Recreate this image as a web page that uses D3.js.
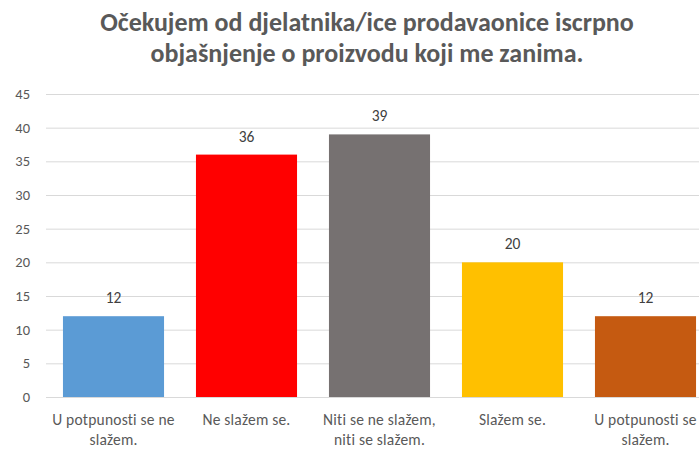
<!DOCTYPE html>
<html>
<head>
<meta charset="utf-8">
<script src="https://cdn.jsdelivr.net/npm/d3@7"></script>
<style>
  html, body { margin: 0; padding: 0; background: #fff; overflow: hidden; }
  svg { display: block; }
</style>
</head>
<body>
<svg id="chart" width="699" height="450"></svg>
<script>
// Survey answers and how many respondents picked each one
const categories = [
  "U potpunosti se ne slažem.",
  "Ne slažem se.",
  "Niti se ne slažem, niti se slažem.",
  "Slažem se.",
  "U potpunosti se slažem."
];
const counts = [12, 36, 39, 20, 12];
const barColors = ["#5B9BD5", "#FF0000", "#767171", "#FFC000", "#C55A11"];
const yTicks = [0, 5, 10, 15, 20, 25, 30, 35, 40, 45];
const titleLines = [
  "Očekujem od djelatnika/ice prodavaonice iscrpno",
  "objašnjenje o proizvodu koji me zanima."
];

const svg = d3.select("#chart");
const W = 699, H = 450;
const plot = { left: 47, right: 712, top: 94, bottom: 397 };
const font = "Calibri, Carlito, Lato, 'Open Sans', sans-serif";

const x = d3.scaleBand()
  .domain(categories)
  .range([plot.left, plot.right])
  .paddingInner(0.24)
  .paddingOuter(0.12);

const y = d3.scaleLinear()
  .domain([0, 45])
  .range([plot.bottom, plot.top]);

// Title
svg.append("g")
  .selectAll("text")
  .data(titleLines)
  .join("text")
  .attr("x", 367)
  .attr("y", (d, i) => 31 + i * 31)
  .attr("text-anchor", "middle")
  .style("font-family", font)
  .style("font-weight", "bold")
  .style("font-size", "26px")
  .style("fill", "#595959")
  .text(d => d);

// Horizontal gridlines
const yAxis = d3.axisLeft(y)
  .tickValues(yTicks)
  .tickSize(-(W - plot.left + 10))
  .tickPadding(16)
  .tickFormat(d3.format("d"));

const gy = svg.append("g")
  .attr("transform", `translate(${plot.left - 1},0)`)
  .call(yAxis);
gy.select(".domain").remove();
gy.selectAll(".tick line").attr("stroke", "#d9d9d9").attr("stroke-width", 1);
gy.selectAll(".tick text")
  .style("font-family", font)
  .style("font-size", "14.5px")
  .style("fill", "#595959");

// Bars
svg.append("g")
  .selectAll("rect")
  .data(counts)
  .join("rect")
  .attr("x", (d, i) => x(categories[i]))
  .attr("width", x.bandwidth())
  .attr("y", d => y(d))
  .attr("height", d => y(0) - y(d))
  .attr("fill", (d, i) => barColors[i]);

// Value labels
svg.append("g")
  .selectAll("text")
  .data(counts)
  .join("text")
  .attr("x", (d, i) => x(categories[i]) + x.bandwidth() / 2)
  .attr("y", d => y(d) - 13)
  .attr("text-anchor", "middle")
  .style("font-family", font)
  .style("font-size", "15.5px")
  .style("fill", "#404040")
  .text(d => d);

// Baseline
svg.append("line")
  .attr("x1", plot.left - 1).attr("x2", W)
  .attr("y1", y(0) + 0.5).attr("y2", y(0) + 0.5)
  .attr("stroke", "#d9d9d9");

// Category labels, wrapped to the band width
const gx = svg.append("g");
categories.forEach(cat => {
  const cx = x(cat) + x.bandwidth() / 2;
  const t = gx.append("text")
    .attr("text-anchor", "middle")
    .style("font-family", font)
    .style("font-size", "15.5px")
    .style("letter-spacing", "0.2px")
    .style("fill", "#595959");
  const words = cat.split(" ");
  const maxW = x.step() + 4;
  let line = [], lineNo = 0;
  let tspan = t.append("tspan").attr("x", cx).attr("y", 425);
  words.forEach(w => {
    line.push(w);
    tspan.text(line.join(" "));
    if (tspan.node().getComputedTextLength() > maxW && line.length > 1) {
      line.pop();
      tspan.text(line.join(" "));
      line = [w];
      lineNo++;
      tspan = t.append("tspan").attr("x", cx).attr("y", 425 + lineNo * 20).text(w);
    }
  });
});
</script>
</body>
</html>
